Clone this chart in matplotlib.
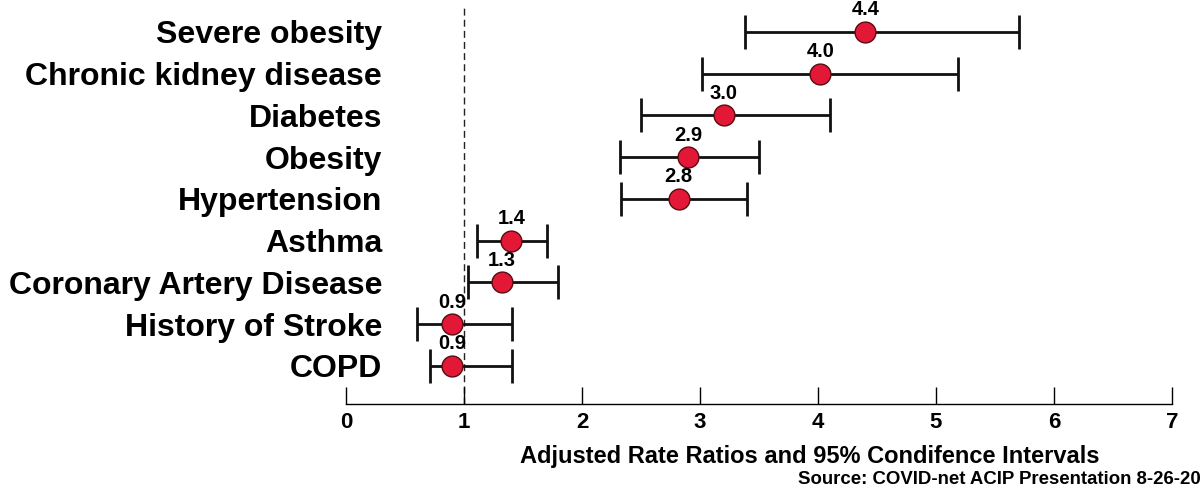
import numpy as np
import matplotlib.pyplot as plt

conditions = ['Severe obesity', 'Chronic kidney disease', 'Diabetes', 'Obesity',
              'Hypertension', 'Asthma', 'Coronary Artery Disease',
              'History of Stroke', 'COPD']
rate_ratio = [4.4, 4.02, 3.2, 2.9, 2.82, 1.4, 1.32, 0.9, 0.9]
ci_low = [3.38, 3.02, 2.5, 2.32, 2.33, 1.11, 1.03, 0.6, 0.71]
ci_high = [5.7, 5.19, 4.1, 3.5, 3.4, 1.7, 1.8, 1.41, 1.41]
value_labels = ['4.4', '4.0', '3.0', '2.9', '2.8', '1.4', '1.3', '0.9', '0.9']

font = 'Liberation Sans'

fig = plt.figure(figsize=(12.04, 4.98), dpi=100)
ax = fig.add_axes([0.2874, 0.189, 0.686, 0.795])

y = np.arange(len(conditions))
rr = np.array(rate_ratio)
err = [rr - np.array(ci_low), np.array(ci_high) - rr]

ax.axvline(1, color='#222222', lw=1, ls=(0, (5, 3)), zorder=1)
ax.errorbar(rr, y, xerr=err, fmt='none', ecolor='#111111', elinewidth=2,
            capsize=12, capthick=2, zorder=2)
ax.plot(rr, y, 'o', ms=15, mfc='#e31837', mec='#5a0a10', mew=1, zorder=3)

for xi, yi, lab in zip(rr, y, value_labels):
    ax.text(xi, yi - 0.3, lab, ha='center', va='bottom', fontsize=14.5,
            fontweight='bold', family=font)

ax.set_xlim(0, 7)
ax.set_ylim(8.91, -0.575)
ax.set_yticks(y)
ax.set_yticklabels(conditions, fontsize=23, fontweight='bold', family=font)
ax.tick_params(axis='y', length=0, pad=-26)
ax.set_xticks(range(8))
ax.set_xticklabels([str(i) for i in range(8)], fontsize=16, fontweight='bold',
                   family=font)
ax.tick_params(axis='x', direction='in', length=12, width=1, pad=6)

for s in ['left', 'right', 'top']:
    ax.spines[s].set_visible(False)
ax.spines['bottom'].set_linewidth(1)

ax.set_xlabel('Adjusted Rate Ratios and 95% Condifence Intervals', fontsize=17,
              fontweight='bold', family=font)
ax.xaxis.set_label_coords(0.562, -0.105)

fig.text(0.997, 0.02, 'Source: COVID-net ACIP Presentation 8-26-20',
         ha='right', va='bottom', fontsize=13.4, fontweight='bold', family=font)

fig.savefig('out.png', dpi=100)
